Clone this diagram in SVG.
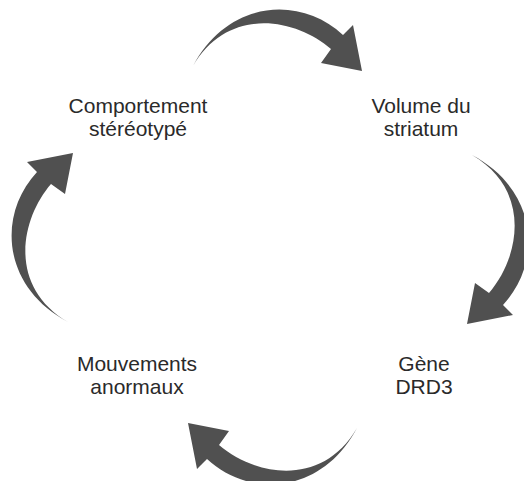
<svg xmlns="http://www.w3.org/2000/svg" xmlns:xlink="http://www.w3.org/1999/xlink" width="524" height="481" viewBox="0 0 524 481">
  <style>
    .lbl { font-family: "Liberation Sans", Arial, sans-serif; font-size: 21px; fill: #2a2a2a; text-anchor: middle; }
    .arr { fill: #505050; }
  </style>
  <defs>
    <path id="arrow" class="arr" d="M193,66 C228,0 300,-5 343,35 L353,25 L362,71 L321,63 L331,49 C295,18 228,6 193,66 Z"/>
  </defs>
  <rect width="524" height="481" fill="#ffffff"/>
  <g id="connectors">
    <use xlink:href="#arrow" href="#arrow"/>
    <use xlink:href="#arrow" href="#arrow" transform="translate(472,155) rotate(90) translate(-193,-66)"/>
    <use xlink:href="#arrow" href="#arrow" transform="translate(357,428) rotate(180) translate(-193,-66)"/>
    <use xlink:href="#arrow" href="#arrow" transform="translate(68,322) rotate(-90) translate(-193,-66)"/>
  </g>
  <g id="node-comportement">
    <text class="lbl" x="138" y="113">Comportement</text>
    <text class="lbl" x="138" y="136">stéréotypé</text>
  </g>
  <g id="node-volume">
    <text class="lbl" x="421" y="113">Volume du</text>
    <text class="lbl" x="421" y="136">striatum</text>
  </g>
  <g id="node-gene">
    <text class="lbl" x="424" y="371">Gène</text>
    <text class="lbl" x="424" y="394">DRD3</text>
  </g>
  <g id="node-mouvements">
    <text class="lbl" x="137" y="371">Mouvements</text>
    <text class="lbl" x="137" y="394">anormaux</text>
  </g>
</svg>
